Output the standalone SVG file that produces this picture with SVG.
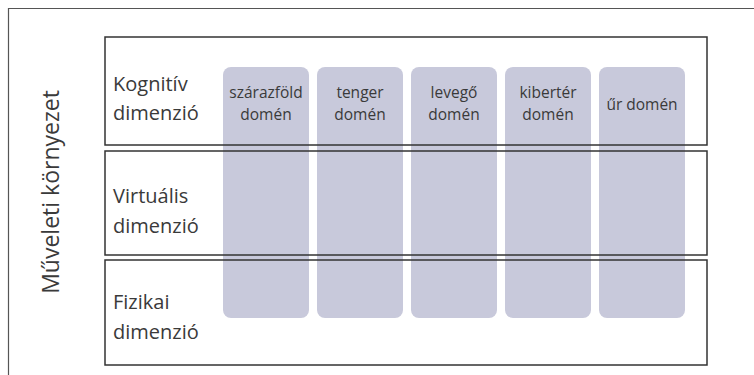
<svg xmlns="http://www.w3.org/2000/svg" width="754" height="375" viewBox="0 0 754 375">
<style>
.frame{fill:none;stroke:#555;stroke-width:1.2}
.row{fill:none;stroke:#333;stroke-width:1.5}
.col{fill:#c8c9db}
.lbl{font-family:"Open Sans","Liberation Sans",sans-serif;font-size:20px;fill:#3a3a3a}
.dl{font-family:"Open Sans","Liberation Sans",sans-serif;font-size:15.5px;fill:#3a3a3a;text-anchor:middle}
</style>
<rect width="754" height="375" fill="#fff"/>
<path class="frame" d="M8.5,375 V8.5 H754"/>
<text class="lbl" style="font-size:23px" transform="translate(59,192) rotate(-90)" text-anchor="middle">Műveleti környezet</text>
<g id="domains">
<g id="d1"><rect class="col" x="223" y="67" width="86" height="251" rx="8"/><text class="dl" x="266" y="98">szárazföld</text><text class="dl" x="266" y="120">domén</text></g>
<g id="d2"><rect class="col" x="317" y="67" width="86" height="251" rx="8"/><text class="dl" x="360" y="98">tenger</text><text class="dl" x="360" y="120">domén</text></g>
<g id="d3"><rect class="col" x="411" y="67" width="86" height="251" rx="8"/><text class="dl" x="454" y="98">levegő</text><text class="dl" x="454" y="120">domén</text></g>
<g id="d4"><rect class="col" x="505" y="67" width="86" height="251" rx="8"/><text class="dl" x="548" y="98">kibertér</text><text class="dl" x="548" y="120">domén</text></g>
<g id="d5"><rect class="col" x="599" y="67" width="86" height="251" rx="8"/><text class="dl" x="642" y="110">űr domén</text></g>
</g>
<g id="r1"><rect class="row" x="105" y="37" width="602" height="108"/><text class="lbl" x="113" y="91">Kognitív</text><text class="lbl" x="113" y="120">dimenzió</text></g>
<g id="r2"><rect class="row" x="105" y="151" width="602" height="104"/><text class="lbl" x="113" y="203">Virtuális</text><text class="lbl" x="113" y="233">dimenzió</text></g>
<g id="r3"><rect class="row" x="105" y="260" width="602" height="105"/><text class="lbl" x="113" y="309">Fizikai</text><text class="lbl" x="113" y="339">dimenzió</text></g>
</svg>
